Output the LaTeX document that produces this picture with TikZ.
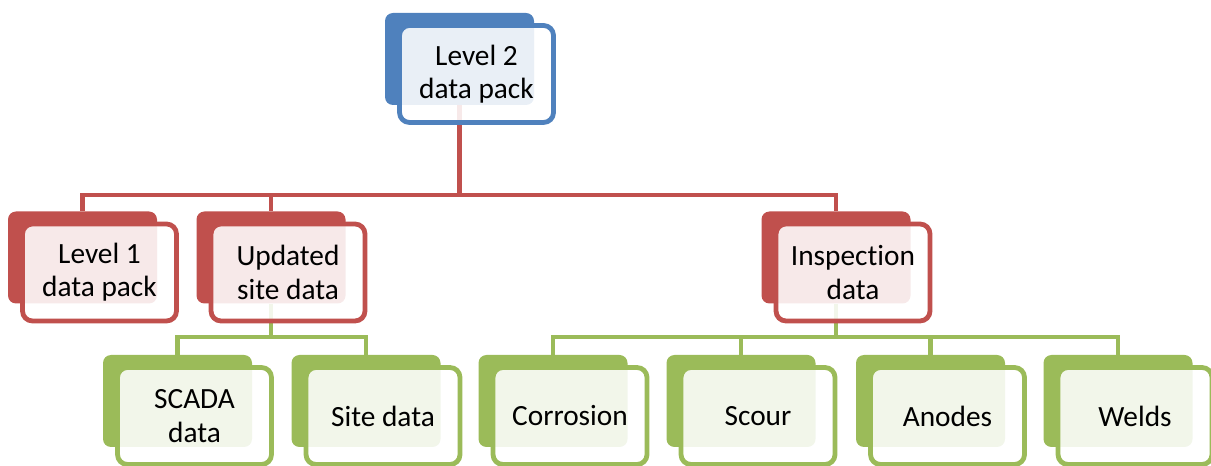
\documentclass[tikz,border=0pt]{standalone}
\usepackage{fontspec}
\setmainfont{Carlito}[Ligatures=NoCommon]
\definecolor{obBlue}{HTML}{4F81BD}
\definecolor{obRed}{HTML}{C0504D}
\definecolor{obGreen}{HTML}{9BBB59}
\tikzset{
  cardback/.style={rectangle, rounded corners=6pt, fill=#1, inner sep=0pt,
    minimum width=111.75pt, minimum height=69pt},
  cardfront/.style={rectangle, rounded corners=7.5pt, draw=#1, line width=3.6pt,
    fill=white, fill opacity=0.88, text opacity=1, inner sep=0pt,
    minimum width=115.5pt, minimum height=72.75pt, align=center,
    font=\fontsize{22}{25}\selectfont},
  link/.style={draw=#1, line width=3.4pt},
}
\begin{document}
\begin{tikzpicture}[x=0.75pt, y=-0.75pt]
\useasboundingbox (0,0) rectangle (1211,466);

% solid back plates
\node[cardback=obBlue]  (l2b)    at (459.5,59)   {};
\node[cardback=obRed]   (l1b)    at (82.5,257.5) {};
\node[cardback=obRed]   (updb)   at (271,257.5)  {};
\node[cardback=obRed]   (inspb)  at (836,257.5)  {};
\node[cardback=obGreen] (scadab) at (177.5,401)  {};
\node[cardback=obGreen] (siteb)  at (366,401)    {};
\node[cardback=obGreen] (corrb)  at (553,401)    {};
\node[cardback=obGreen] (scourb) at (741,401)    {};
\node[cardback=obGreen] (anodb)  at (930.5,401)  {};
\node[cardback=obGreen] (weldb)  at (1118,401)   {};

% hierarchy connectors
\coordinate (busA) at (459.5,195);
\coordinate (busB) at (271,337);
\coordinate (busC) at (836,337);
\draw[link=obRed] (l2b.south) -- (busA);
\draw[link=obRed] (busA) -| (l1b.north);
\draw[link=obRed] (busA) -| (updb.north);
\draw[link=obRed] (busA) -| (inspb.north);
\draw[link=obGreen] (updb.south) -- (busB);
\draw[link=obGreen] (busB) -| (scadab.north);
\draw[link=obGreen] (busB) -| (siteb.north);
\draw[link=obGreen] (inspb.south) -- (busC);
\draw[link=obGreen] (busC) -| (corrb.north);
\draw[link=obGreen] (busC) -| (scourb.north);
\draw[link=obGreen] (busC) -| (anodb.north);
\draw[link=obGreen] (busC) -| (weldb.north);

% translucent front cards with labels
\node[cardfront=obBlue]  (l2f)    at ([shift={(17,15)}]l2b.center)    {Level 2\\data pack};
\node[cardfront=obRed]   (l1f)    at ([shift={(17,15)}]l1b.center)    {Level 1\\data pack};
\node[cardfront=obRed]   (updf)   at ([shift={(17,15)}]updb.center)   {Updated\\site data};
\node[cardfront=obRed]   (inspf)  at ([shift={(17,15)}]inspb.center)  {Inspection\\data};
\node[cardfront=obGreen] (scadaf) at ([shift={(17,15)}]scadab.center) {SCADA\\data};
\node[cardfront=obGreen] (sitef)  at ([shift={(17,15)}]siteb.center)  {Site data};
\node[cardfront=obGreen] (corrf)  at ([shift={(17,15)}]corrb.center)  {Corrosion};
\node[cardfront=obGreen] (scourf) at ([shift={(17,15)}]scourb.center) {Scour};
\node[cardfront=obGreen] (anodf)  at ([shift={(17,15)}]anodb.center)  {Anodes};
\node[cardfront=obGreen] (weldf)  at ([shift={(17,15)}]weldb.center)  {Welds};
\end{tikzpicture}
\end{document}
